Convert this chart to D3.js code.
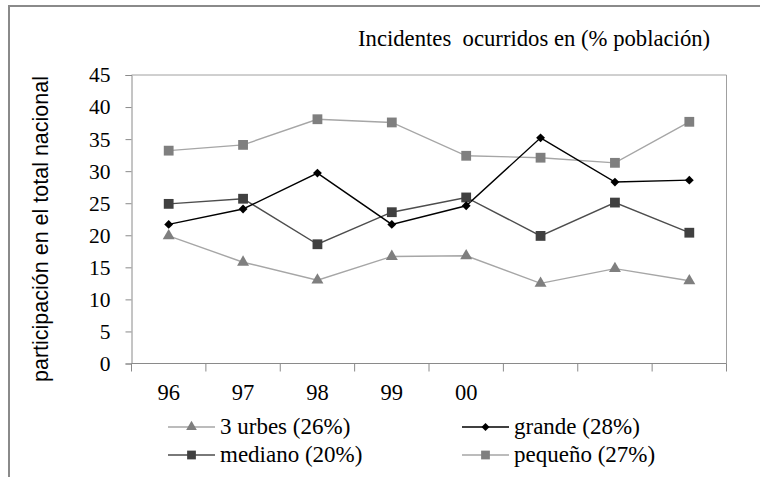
<!DOCTYPE html>
<html>
<head>
<meta charset="utf-8">
<script src="https://cdn.jsdelivr.net/npm/d3@7"></script>
<style>
  html, body { margin: 0; padding: 0; background: #fff; }
  svg { display: block; }
</style>
</head>
<body>
<svg id="chart" width="760" height="477"></svg>
<script>
// Years on the horizontal axis (only the first five carry a printed label)
const categories = ["96", "97", "98", "99", "00", "01", "02", "03"];
const xTickLabels = ["96", "97", "98", "99", "00", "", "", ""];
const yTicks = [0, 5, 10, 15, 20, 25, 30, 35, 40, 45];

// Share of incidents by city size (% of national total)
const urbes3  = [19.9, 15.8, 13.0, 16.7, 16.8, 12.5, 14.8, 12.9];
const grande  = [21.7, 24.1, 29.7, 21.7, 24.6, 35.2, 28.3, 28.6];
const mediano = [24.9, 25.7, 18.6, 23.6, 25.9, 19.9, 25.1, 20.4];
const pequeno = [33.2, 34.1, 38.1, 37.6, 32.4, 32.1, 31.3, 37.7];

const seriesNames = ["3 urbes (26%)", "grande (28%)", "mediano (20%)", "pequeño (27%)"];

const series = [
  { name: seriesNames[0], values: urbes3,  line: "#a6a6a6", fill: "#7f7f7f", symbol: d3.symbolTriangle, size: 62 },
  { name: seriesNames[1], values: grande,  line: "#000000", fill: "#000000", symbol: d3.symbolDiamond2, size: 50 },
  { name: seriesNames[2], values: mediano, line: "#4d4d4d", fill: "#404040", symbol: d3.symbolSquare,  size: 96 },
  { name: seriesNames[3], values: pequeno, line: "#a6a6a6", fill: "#7f7f7f", symbol: d3.symbolSquare,  size: 96 }
];

const SERIF = '"Liberation Serif"';
const SANS = '"Liberation Sans"';

const svg = d3.select("#chart");

// Outer frame (top and left edges)
svg.append("path")
  .attr("d", "M9,477 L9,6 L760,6")
  .attr("fill", "none")
  .attr("stroke", "#8a8a8a")
  .attr("stroke-width", 2);

const plot = { left: 131.5, right: 726.5, top: 75, bottom: 363.5 };

const x = d3.scaleBand()
  .domain(categories)
  .range([plot.left, plot.right])
  .paddingInner(0)
  .paddingOuter(0);

const y = d3.scaleLinear()
  .domain([0, 45])
  .range([plot.bottom, plot.top]);

// Plot area border (top and right)
svg.append("path")
  .attr("d", `M${plot.left},${plot.top} L${plot.right},${plot.top} L${plot.right},${plot.bottom}`)
  .attr("fill", "none")
  .attr("stroke", "#a0a0a0")
  .attr("stroke-width", 1);

// Y axis
const yAxis = svg.append("g")
  .attr("transform", `translate(${plot.left},0)`)
  .call(d3.axisLeft(y).tickValues(yTicks).tickSize(6).tickPadding(15).tickFormat(d3.format("d")));
yAxis.select(".domain").attr("stroke", "#8a8a8a");
yAxis.selectAll(".tick line").attr("stroke", "#8a8a8a");
yAxis.selectAll(".tick text")
  .style("font-family", SERIF)
  .style("font-size", "21.5px")
  .attr("fill", "#000");

// X axis: ticks on category boundaries, labels at category centres
const xAxisG = svg.append("g")
  .attr("transform", `translate(0,${plot.bottom})`);
xAxisG.append("line")
  .attr("x1", plot.left).attr("x2", plot.right)
  .attr("stroke", "#8a8a8a");
const boundaries = categories.map(c => x(c)).concat([x(categories[categories.length - 1]) + x.bandwidth()]);
xAxisG.selectAll("line.tick")
  .data(boundaries)
  .join("line")
  .attr("class", "tick")
  .attr("x1", d => d).attr("x2", d => d)
  .attr("y1", 0).attr("y2", 8)
  .attr("stroke", "#8a8a8a");
xAxisG.selectAll("text")
  .data(categories)
  .join("text")
  .attr("x", d => x(d) + x.bandwidth() / 2)
  .attr("y", 36)
  .attr("text-anchor", "middle")
  .style("font-family", SERIF)
  .style("font-size", "22.5px")
  .attr("fill", "#000")
  .text((d, i) => xTickLabels[i]);

// Y axis title
svg.append("text")
  .attr("transform", `translate(48,229) rotate(-90)`)
  .attr("text-anchor", "middle")
  .style("font-family", SANS)
  .style("font-size", "21.5px")
  .attr("fill", "#000")
  .text("participación en el total nacional");

// Chart title
svg.append("text")
  .attr("x", 358)
  .attr("y", 46)
  .style("font-family", SERIF)
  .style("font-size", "22.7px")
  .style("white-space", "pre")
  .attr("fill", "#000")
  .text("Incidentes  ocurridos en (% población)");

// Lines and markers
const line = d3.line()
  .x((d, i) => x(categories[i]) + x.bandwidth() / 2)
  .y(d => y(d));

const drawOrder = [0, 3, 2, 1];
drawOrder.forEach(k => {
  const s = series[k];
  svg.append("path")
    .datum(s.values)
    .attr("d", line)
    .attr("fill", "none")
    .attr("stroke", s.line)
    .attr("stroke-width", 1.4);
});
drawOrder.forEach(k => {
  const s = series[k];
  const sym = d3.symbol().type(s.symbol).size(s.size);
  svg.append("g").selectAll("path")
    .data(s.values)
    .join("path")
    .attr("d", sym)
    .attr("transform", (d, i) => `translate(${x(categories[i]) + x.bandwidth() / 2},${y(d)})`)
    .attr("fill", s.fill);
});

// Legend: two columns, two rows
const legendCols = [168, 462];
const legendRows = [427, 455];
series.forEach((s, i) => {
  const gx = legendCols[i % 2];
  const gy = legendRows[Math.floor(i / 2)];
  const g = svg.append("g").attr("transform", `translate(${gx},${gy})`);
  g.append("line")
    .attr("x1", 0).attr("x2", 47)
    .attr("stroke", s.line)
    .attr("stroke-width", 1.4);
  g.append("path")
    .attr("d", d3.symbol().type(s.symbol).size(s.size * 0.8))
    .attr("transform", "translate(23.5,0)")
    .attr("fill", s.fill);
  g.append("text")
    .attr("x", 52)
    .attr("y", 7)
    .style("font-family", SERIF)
    .style("font-size", "23px")
    .attr("fill", "#000")
    .text(s.name);
});
</script>
</body>
</html>
